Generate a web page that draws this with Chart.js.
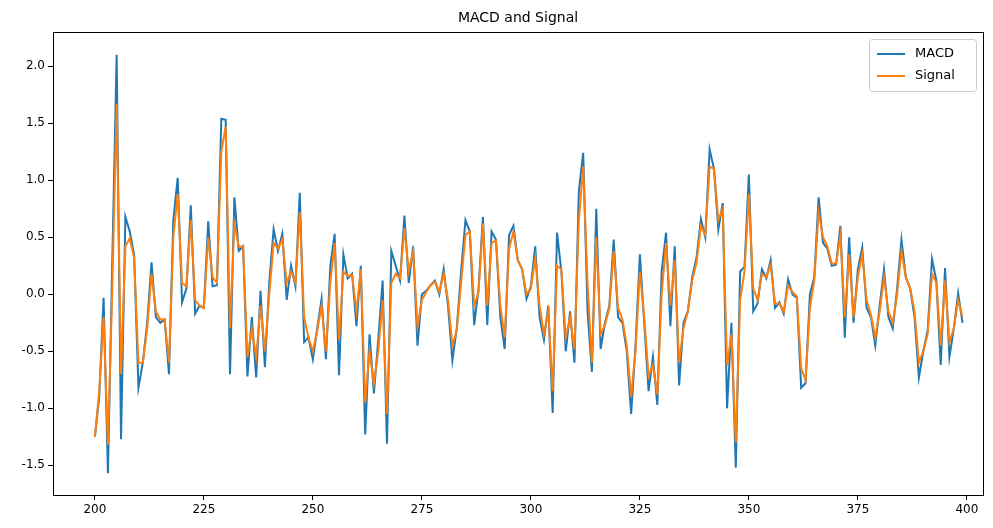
<!DOCTYPE html>
<html>
<head>
<meta charset="utf-8">
<script src="https://cdn.jsdelivr.net/npm/chart.js"></script>
<style>body{margin:0;background:#fff}</style>
</head>
<body>
<canvas id="macdChart" width="993" height="528"></canvas>
<script>
const title = 'MACD and Signal';
const seriesNames = ['MACD', 'Signal'];
const xStart = 200;
const xTicks = [200, 225, 250, 275, 300, 325, 350, 375, 400];
const yTicks = [-1.5, -1.0, -0.5, 0.0, 0.5, 1.0, 1.5, 2.0];

const macd = [
  -1.25, -0.9, -0.03, -1.57, 0.3, 2.1, -1.27, 0.68, 0.55, 0.35,
  -0.82, -0.6, -0.25, 0.28, -0.2, -0.25, -0.22, -0.7, 0.65, 1.02,
  -0.07, 0.05, 0.78, -0.17, -0.1, -0.12, 0.64, 0.07, 0.08, 1.54,
  1.53, -0.7, 0.85, 0.38, 0.42, -0.72, -0.2, -0.73, 0.03, -0.64,
  0.1, 0.57, 0.38, 0.53, -0.05, 0.25, 0.07, 0.89, -0.42, -0.38,
  -0.57, -0.3, -0.04, -0.57, 0.25, 0.53, -0.71, 0.35, 0.14, 0.18,
  -0.28, 0.25, -1.23, -0.35, -0.87, -0.4, 0.12, -1.31, 0.38, 0.25,
  0.12, 0.69, 0.1, 0.42, -0.45, 0.0, 0.03, 0.08, 0.12, 0.0,
  0.22, -0.1, -0.58, -0.3, 0.2, 0.65, 0.55, -0.27, 0.05, 0.68,
  -0.27, 0.55, 0.48, -0.2, -0.48, 0.52, 0.6, 0.3, 0.22, -0.04,
  0.07, 0.42, -0.2, -0.4, -0.1, -1.04, 0.54, 0.2, -0.5, -0.15,
  -0.6, 0.9, 1.24, -0.15, -0.68, 0.75, -0.48, -0.25, -0.1, 0.48,
  -0.2, -0.25, -0.5, -1.05, -0.45, 0.35, -0.25, -0.85, -0.55, -0.97,
  0.2, 0.54, -0.28, 0.42, -0.8, -0.25, -0.15, 0.15, 0.32, 0.66,
  0.5, 1.27, 1.1, 0.57, 0.8, -1.0, -0.25, -1.52, 0.2, 0.24,
  1.05, -0.15, -0.08, 0.22, 0.14, 0.3, -0.12, -0.07, -0.17, 0.13,
  0.0, -0.03, -0.82, -0.78, 0.0, 0.15, 0.85, 0.45, 0.4, 0.25,
  0.26, 0.6, -0.38, 0.5, -0.25, 0.22, 0.41, -0.12, -0.2, -0.45,
  -0.1, 0.22, -0.2, -0.3, 0.05, 0.48, 0.15, 0.05, -0.2, -0.73,
  -0.5, -0.32, 0.31, 0.12, -0.62, 0.23, -0.55, -0.3, 0.01, -0.25
];

const signal = [
  -1.25, -0.85, -0.2, -1.32, 0.05, 1.67, -0.7, 0.42, 0.49, 0.32,
  -0.6, -0.6, -0.3, 0.18, -0.15, -0.22, -0.22, -0.6, 0.5, 0.88,
  0.1, 0.07, 0.65, -0.05, -0.1, -0.12, 0.5, 0.15, 0.1, 1.25,
  1.47, -0.3, 0.62, 0.42, 0.42, -0.55, -0.3, -0.55, -0.1, -0.5,
  0.0, 0.45, 0.4, 0.48, 0.1, 0.2, 0.1, 0.72, -0.2, -0.38,
  -0.5, -0.32, -0.1, -0.5, 0.1, 0.45, -0.4, 0.2, 0.16, 0.17,
  -0.15, 0.22, -0.95, -0.5, -0.78, -0.5, -0.05, -1.05, 0.1, 0.18,
  0.14, 0.58, 0.2, 0.38, -0.28, -0.05, 0.02, 0.08, 0.11, 0.02,
  0.18, -0.05, -0.45, -0.32, 0.1, 0.52, 0.55, -0.1, 0.02, 0.62,
  -0.1, 0.45, 0.47, -0.1, -0.38, 0.4, 0.55, 0.3, 0.22, 0.0,
  0.05, 0.32, -0.1, -0.35, -0.15, -0.85, 0.25, 0.22, -0.38, -0.2,
  -0.48, 0.65, 1.12, 0.1, -0.6, 0.5, -0.35, -0.27, -0.12, 0.38,
  -0.12, -0.22, -0.45, -0.9, -0.5, 0.2, -0.2, -0.72, -0.62, -0.88,
  0.0, 0.45, -0.1, 0.3, -0.6, -0.3, -0.15, 0.12, 0.28, 0.6,
  0.52, 1.12, 1.1, 0.65, 0.75, -0.62, -0.35, -1.3, -0.05, 0.2,
  0.88, 0.05, -0.05, 0.18, 0.15, 0.26, -0.08, -0.08, -0.15, 0.08,
  0.02, -0.02, -0.65, -0.75, -0.12, 0.12, 0.72, 0.5, 0.42, 0.27,
  0.27, 0.52, -0.2, 0.35, -0.2, 0.15, 0.35, -0.05, -0.18, -0.38,
  -0.15, 0.15, -0.15, -0.25, 0.0, 0.38, 0.15, 0.05, -0.15, -0.6,
  -0.5, -0.35, 0.18, 0.1, -0.45, 0.12, -0.42, -0.3, -0.05, -0.2
];

const colors = ['#1f77b4', '#ff7f0e'];
const font = { family: 'DejaVu Sans', size: 12 };

// matplotlib-like frame, title and legend box inside the plot
const decorations = {
  id: 'decorations',
  afterDraw(chart) {
    const { ctx, chartArea: a } = chart;
    ctx.save();
    ctx.strokeStyle = '#000';
    ctx.lineWidth = 1;
    ctx.strokeRect(a.left + 0.5, a.top + 0.5, a.right - a.left, a.bottom - a.top);
    ctx.fillStyle = '#000';
    ctx.font = '14px DejaVu Sans';
    ctx.textAlign = 'center';
    ctx.textBaseline = 'bottom';
    ctx.fillText(title, (a.left + a.right) / 2, a.top - 7);

    const bw = 107, bh = 52;
    const bx = a.right - bw - 7, by = a.top + 7;
    ctx.fillStyle = 'rgba(255,255,255,0.8)';
    ctx.strokeStyle = '#ccc';
    ctx.beginPath();
    ctx.roundRect(bx + 0.5, by + 0.5, bw, bh, 3);
    ctx.fill();
    ctx.stroke();
    ctx.font = '13px DejaVu Sans';
    ctx.textAlign = 'left';
    ctx.textBaseline = 'middle';
    chart.data.datasets.forEach((ds, i) => {
      const ly = by + 15 + i * 22;
      ctx.strokeStyle = ds.borderColor;
      ctx.lineWidth = 2;
      ctx.beginPath();
      ctx.moveTo(bx + 8, ly);
      ctx.lineTo(bx + 36, ly);
      ctx.stroke();
      ctx.fillStyle = '#000';
      ctx.fillText(ds.label, bx + 46, ly);
    });
    ctx.restore();
  }
};

const xs = macd.map((_, i) => xStart + i);

new Chart(document.getElementById('macdChart').getContext('2d'), {
  type: 'line',
  data: {
    datasets: [macd, signal].map((vals, k) => ({
      label: seriesNames[k],
      data: vals.map((v, i) => ({ x: xs[i], y: v })),
      borderColor: colors[k],
      borderWidth: 2,
      pointRadius: 0,
      tension: 0,
      fill: false,
      order: 1 - k   // Signal drawn over MACD
    }))
  },
  options: {
    responsive: false,
    animation: false,
    layout: { padding: { top: 32, right: 10, left: 0, bottom: 0 } },
    plugins: { legend: { display: false }, title: { display: false }, tooltip: { enabled: false } },
    scales: {
      x: {
        type: 'linear',
        min: 190.4,
        max: 403.7,
        afterBuildTicks: s => { s.ticks = xTicks.map(v => ({ value: v })); },
        afterFit: s => { s.height = 33; },
        ticks: { color: '#000', font, padding: 3, maxRotation: 0 },
        grid: { drawOnChartArea: false, drawTicks: true, tickLength: 5, color: '#000' },
        border: { display: false }
      },
      y: {
        min: -1.76,
        max: 2.3,
        afterBuildTicks: s => { s.ticks = yTicks.map(v => ({ value: v })); },
        afterFit: s => { s.width = 53; },
        ticks: { color: '#000', font, padding: 3, callback: v => v.toFixed(1) },
        grid: { drawOnChartArea: false, drawTicks: true, tickLength: 5, color: '#000' },
        border: { display: false }
      }
    }
  },
  plugins: [decorations]
});
</script>
</body>
</html>
